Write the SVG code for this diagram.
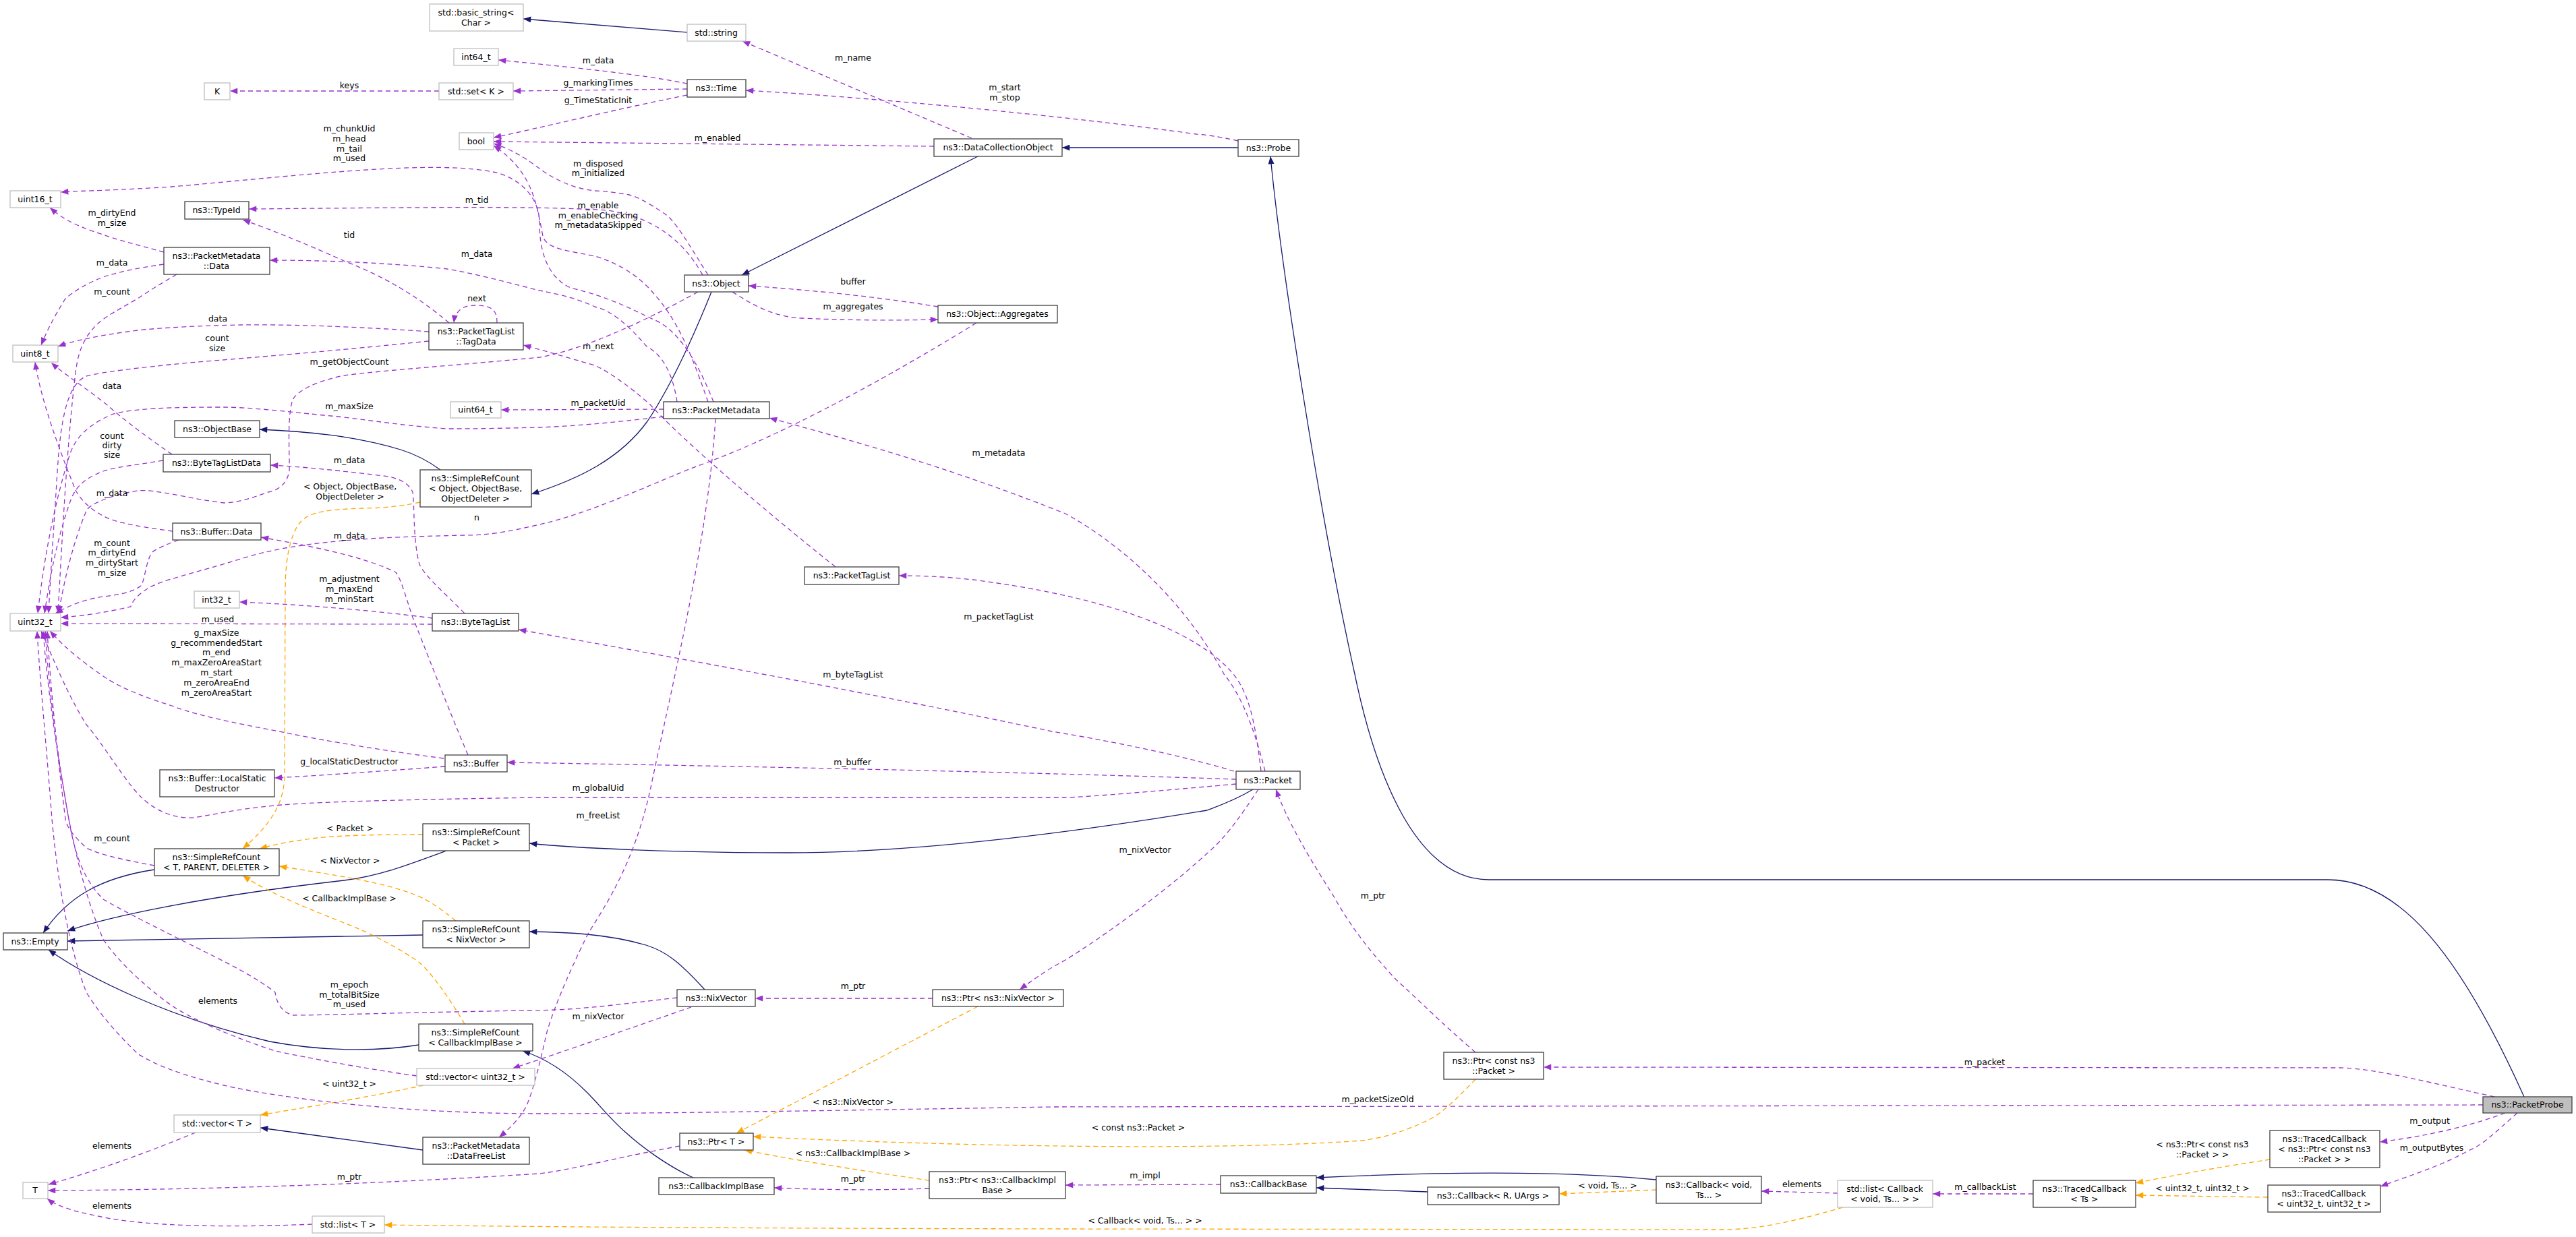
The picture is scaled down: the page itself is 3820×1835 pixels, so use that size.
<svg xmlns="http://www.w3.org/2000/svg" width="3820" height="1835" viewBox="0 0 3820 1835">
<style>
text{font-family:"DejaVu Sans","Liberation Sans",sans-serif;font-size:12.5px;fill:#000;text-anchor:middle}
.b{fill:#fff;stroke:#404040;stroke-width:1.3}
.g{fill:#fff;stroke:#bfbfbf;stroke-width:1.3}
.s{fill:#bfbfbf;stroke:#404040;stroke-width:1.3}
.n{fill:none;stroke:#191970;stroke-width:1.3;marker-end:url(#aN)}
.o{fill:none;stroke:#ffa500;stroke-width:1.3;stroke-dasharray:7,5;marker-end:url(#aO)}
.p{fill:none;stroke:#9a32cd;stroke-width:1.3;stroke-dasharray:7,5;marker-end:url(#aP)}
</style>
<defs>
<marker id="aN" viewBox="0 0 10 8" refX="10" refY="4" markerWidth="13" markerHeight="9" markerUnits="userSpaceOnUse" orient="auto"><path d="M0,0L10,4L0,8z" fill="#191970"/></marker>
<marker id="aO" viewBox="0 0 10 8" refX="10" refY="4" markerWidth="13" markerHeight="9" markerUnits="userSpaceOnUse" orient="auto"><path d="M0,0L10,4L0,8z" fill="#ffa500"/></marker>
<marker id="aP" viewBox="0 0 10 8" refX="10" refY="4" markerWidth="13" markerHeight="9" markerUnits="userSpaceOnUse" orient="auto"><path d="M0,0L10,4L0,8z" fill="#9a32cd"/></marker>
</defs>
<rect width="3820" height="1835" fill="#fff"/>
<g id="edges">
<path class="n" d="M1019,48 L776,28"/>
<path class="n" d="M1450,232 L1100,408"/>
<path class="n" d="M1836,219 L1575,219"/>
<path class="n" d="M3743,1627 C3650,1420 3560,1305 3452,1305 L2208,1305 C2100,1305 2040,1150 2009,1000 C1960,780 1900,400 1884,232"/>
<path class="n" d="M1055,433 C1020,520 990,580 960,625 C920,680 860,710 788,733"/>
<path class="n" d="M653,697 C630,680 610,672 594,667 C520,645 450,640 385,637"/>
<path class="n" d="M1858,1171 C1830,1188 1800,1198 1790,1202 C1500,1250 1300,1265 1168,1265 C1000,1265 850,1258 785,1251"/>
<path class="n" d="M662,1262 C600,1285 560,1300 510,1306 C300,1330 160,1360 100,1381"/>
<path class="n" d="M229,1290 C150,1302 100,1330 64,1384"/>
<path class="n" d="M627,1387 L100,1396"/>
<path class="n" d="M621,1550 C560,1560 480,1560 400,1545 C250,1510 130,1450 72,1409"/>
<path class="n" d="M1045,1468 C1010,1430 990,1412 958,1402 C900,1385 840,1383 785,1382"/>
<path class="n" d="M1028,1747 C990,1730 950,1700 928,1680 C905,1660 890,1640 870,1620 C840,1590 810,1570 775,1559"/>
<path class="n" d="M627,1706 L386,1673"/>
<path class="n" d="M2456,1750 C2300,1735 2100,1740 1952,1747"/>
<path class="n" d="M2117,1768 L1952,1762"/>

<path class="o" d="M623,745 C590,752 560,754 536,754 C490,756 459,758 445,775 C425,800 423,850 423,877 L422,1154 C420,1190 405,1220 360,1259"/>
<text x="519" y="726">&lt; Object, ObjectBase,</text><text x="519" y="741">ObjectDeleter &gt;</text>
<path class="o" d="M627,1238 C560,1238 510,1239 470,1243 C430,1248 410,1252 385,1259"/>
<text x="519" y="1233">&lt; Packet &gt;</text>
<path class="o" d="M676,1366 C650,1345 630,1332 612,1326 C570,1310 510,1300 414,1285"/>
<text x="519" y="1281">&lt; NixVector &gt;</text>
<path class="o" d="M689,1519 C660,1470 630,1430 612,1421 C580,1400 540,1380 510,1369 C450,1345 400,1325 360,1299"/>
<text x="518" y="1337">&lt; CallbackImplBase &gt;</text>
<path class="o" d="M628,1610 C560,1625 470,1640 386,1654"/>
<text x="518" y="1612">&lt; uint32_t &gt;</text>
<path class="o" d="M2733,1791 C2650,1815 2600,1824 2554,1824 L1580,1823 C1100,1822 800,1820 570,1817"/>
<text x="1698" y="1815">&lt; Callback&lt; void, Ts... &gt; &gt;</text>
<path class="o" d="M1450,1493 L1092,1681"/>
<text x="1265" y="1639">&lt; ns3::NixVector &gt;</text>
<path class="o" d="M2188,1601 C2160,1630 2140,1650 2121,1660 C2080,1680 2050,1688 2019,1692 C1800,1708 1400,1700 1117,1686"/>
<text x="1688" y="1677">&lt; const ns3::Packet &gt;</text>
<path class="o" d="M1378,1751 C1300,1740 1200,1725 1104,1706"/>
<text x="1265" y="1715">&lt; ns3::CallbackImplBase &gt;</text>
<path class="o" d="M2456,1765 L2312,1771"/>
<text x="2384" y="1763">&lt; void, Ts... &gt;</text>
<path class="o" d="M3366,1720 C3300,1730 3230,1742 3167,1755"/>
<text x="3266" y="1702">&lt; ns3::Ptr&lt; const ns3</text><text x="3266" y="1717">::Packet &gt; &gt;</text>
<path class="o" d="M3363,1776 C3290,1775 3230,1774 3167,1773"/>
<text x="3266" y="1767">&lt; uint32_t, uint32_t &gt;</text>

<path class="p" d="M1019,124 C950,110 850,100 739,89"/>
<text x="887" y="94">m_data</text>
<path class="p" d="M1019,132 L761,135"/>
<text x="887" y="127">g_markingTimes</text>
<path class="p" d="M1019,141 C900,165 800,190 732,204"/>
<text x="887" y="153">g_TimeStaticInit</text>
<path class="p" d="M651,135 L341,135"/>
<text x="518" y="131">keys</text>
<path class="p" d="M1441,205 L1101,61"/>
<text x="1265" y="90">m_name</text>
<path class="p" d="M1385,217 L732,210"/>
<text x="1064" y="209">m_enabled</text>
<path class="p" d="M1836,209 C1810,203 1790,200 1774,199 C1580,172 1300,145 1106,134"/>
<text x="1490" y="134">m_start</text><text x="1490" y="149">m_stop</text>
<path class="p" d="M1050,408 C1020,360 1000,325 984,316 C960,300 945,292 933,289 C910,285 890,283 882,283 C850,280 820,265 800,250 C780,235 760,222 732,213"/>
<text x="887" y="247">m_disposed</text><text x="887" y="261">m_initialized</text>
<path class="p" d="M1042,408 C1010,350 960,320 900,312 C800,305 600,308 369,310"/>
<text x="707" y="301">m_tid</text>
<path class="p" d="M1050,596 C1030,540 1010,480 969,435 C940,400 900,385 882,380 C845,372 810,370 805,350 C795,300 790,255 732,216"/>
<text x="887" y="309">m_enable</text><text x="887" y="324">m_enableChecking</text><text x="887" y="338">m_metadataSkipped</text>
<path class="p" d="M1058,596 C1040,550 1010,490 969,474 C930,455 900,440 846,427 C810,410 800,370 800,330 C800,300 780,270 740,257 C650,235 450,260 255,277 C180,282 120,283 90,285"/>
<text x="518" y="195">m_chunkUid</text><text x="518" y="210">m_head</text><text x="518" y="225">m_tail</text><text x="518" y="239">m_used</text>
<path class="p" d="M1391,455 C1300,440 1200,430 1110,424"/>
<text x="1265" y="422">buffer</text>
<path class="p" d="M1086,433 C1120,455 1150,470 1188,472 C1280,476 1340,475 1391,474"/>
<text x="1265" y="459">m_aggregates</text>
<path class="p" d="M1448,479 C1300,570 1150,650 1035,691 C960,720 880,760 800,778 C750,790 720,794 689,794 C600,796 560,798 536,800 C460,805 400,815 357,829 C290,850 240,860 219,873 C200,885 195,895 194,900 C160,908 120,914 90,916"/>
<text x="707" y="772">n</text>
<path class="p" d="M1239,841 C1100,730 1000,640 964,600 C930,570 900,550 882,542 C840,530 800,518 776,512"/>
<text x="887" y="518">m_next</text>
<path class="p" d="M1035,433 C950,480 860,520 800,530 C700,540 560,550 510,557 C470,565 440,580 434,593 C425,620 430,680 429,699 C425,720 410,728 398,730 C370,740 350,746 332,746 C280,740 230,725 204,728 C160,735 130,750 128,758 C110,800 95,860 87,910"/>
<text x="518" y="541">m_getObjectCount</text>
<path class="p" d="M984,607 L743,608"/>
<text x="887" y="602">m_packetUid</text>
<path class="p" d="M984,618 C900,628 850,632 800,634 C720,636 690,636 663,636 C580,630 530,620 480,616 C420,610 370,604 327,604 C250,604 200,606 168,614 C130,630 110,650 102,679 C80,750 65,830 56,910"/>
<text x="518" y="607">m_maxSize</text>
<path class="p" d="M1004,596 C1000,570 990,530 959,514 C930,480 905,460 882,455 C850,440 820,435 800,431 C750,418 700,405 663,399 C580,390 480,386 400,386"/>
<text x="707" y="381">m_data</text>
<path class="p" d="M1061,621 C1050,800 1000,1000 964,1173 C940,1280 900,1340 872,1385 C840,1450 820,1500 811,1531 C800,1580 790,1620 780,1642 C770,1660 755,1675 740,1687"/>
<text x="887" y="1214">m_freeList</text>
<path class="p" d="M666,479 C620,440 570,410 510,387 C450,360 400,340 360,326"/>
<text x="518" y="353">tid</text>
<path class="p" d="M737,479 C737,460 730,453 704,453 C685,453 675,462 673,479"/>
<text x="707" y="447">next</text>
<path class="p" d="M636,492 C550,486 450,481 357,482 C300,483 240,486 204,490 C150,497 110,505 86,514"/>
<text x="323" y="477">data</text>
<path class="p" d="M636,506 C500,520 380,530 281,538 C200,546 150,552 128,558 C100,570 90,620 85,700 C80,780 75,850 72,910"/>
<text x="322" y="506">count</text><text x="322" y="521">size</text>
<path class="p" d="M243,374 C200,362 170,355 153,348 C110,335 90,322 74,308"/>
<text x="166" y="320">m_dirtyEnd</text><text x="166" y="335">m_size</text>
<path class="p" d="M243,392 C200,398 170,405 153,411 C125,422 110,432 97,443 C80,470 70,490 61,512"/>
<text x="166" y="394">m_data</text>
<path class="p" d="M262,407 C240,420 220,432 204,443 C175,460 155,470 143,482 C120,505 115,530 112,553 C100,650 92,800 86,910"/>
<text x="166" y="437">m_count</text>
<path class="p" d="M255,674 C220,650 180,620 158,600 C120,570 95,555 76,538"/>
<text x="166" y="577">data</text>
<path class="p" d="M242,683 C200,690 170,693 153,699 C120,712 110,725 102,750 C85,800 75,850 66,910"/>
<text x="166" y="651">count</text><text x="166" y="665">dirty</text><text x="166" y="679">size</text>
<path class="p" d="M256,788 C220,783 185,778 163,770 C135,758 120,742 112,727 C85,660 60,590 52,537"/>
<text x="166" y="736">m_data</text>
<path class="p" d="M265,801 C240,810 225,818 224,821 C215,840 215,860 209,869 C195,880 170,883 153,885 C120,890 100,900 82,910"/>
<text x="166" y="810">m_count</text><text x="166" y="824">m_dirtyEnd</text><text x="166" y="839">m_dirtyStart</text><text x="166" y="854">m_size</text>
<path class="p" d="M689,910 C660,880 630,855 622,837 C612,800 615,750 612,730 C605,715 590,710 577,707 C520,700 460,693 401,690"/>
<text x="518" y="687">m_data</text>
<path class="p" d="M641,917 C550,905 450,897 355,893"/>
<text x="518" y="863">m_adjustment</text><text x="518" y="878">m_maxEnd</text><text x="518" y="893">m_minStart</text>
<path class="p" d="M641,926 L90,925"/>
<text x="323" y="923">m_used</text>
<path class="p" d="M694,1120 C660,1040 630,960 612,916 C600,880 595,860 587,849 C540,825 450,808 387,797"/>
<text x="518" y="799">m_data</text>
<path class="p" d="M658,1125 C580,1115 520,1105 459,1094 C380,1078 300,1065 255,1047 C200,1030 170,1015 153,1003 C120,980 95,960 74,936"/>
<text x="321" y="943">g_maxSize</text><text x="321" y="958">g_recommendedStart</text><text x="321" y="972">m_end</text><text x="321" y="987">m_maxZeroAreaStart</text><text x="321" y="1002">m_start</text><text x="321" y="1017">m_zeroAreaEnd</text><text x="321" y="1032">m_zeroAreaStart</text>
<path class="p" d="M660,1137 C580,1143 480,1150 407,1154"/>
<text x="518" y="1134">g_localStaticDestructor</text>
<path class="p" d="M1833,1156 C1600,1148 1200,1138 752,1131"/>
<text x="1264" y="1135">m_buffer</text>
<path class="p" d="M1833,1163 C1700,1175 1600,1183 1580,1183 L800,1183 C600,1186 450,1190 408,1195 C350,1200 310,1210 286,1213 C250,1215 220,1195 204,1177 C180,1150 150,1100 128,1075 C100,1030 80,980 61,936"/>
<text x="887" y="1173">m_globalUid</text>
<path class="p" d="M1876,1144 C1860,1080 1840,1030 1815,1000 C1750,880 1650,800 1580,762 C1400,690 1250,650 1141,620"/>
<text x="1481" y="676">m_metadata</text>
<path class="p" d="M1870,1144 C1860,1060 1850,1020 1820,990 C1750,920 1600,880 1443,860 C1400,855 1360,854 1333,854"/>
<text x="1481" y="919">m_packetTagList</text>
<path class="p" d="M1830,1144 C1750,1120 1650,1100 1560,1085 C1300,1030 1000,975 769,934"/>
<text x="1265" y="1005">m_byteTagList</text>
<path class="p" d="M1866,1171 C1840,1210 1820,1240 1790,1266 C1720,1330 1620,1400 1580,1424 C1550,1440 1530,1455 1512,1468"/>
<text x="1698" y="1265">m_nixVector</text>
<path class="p" d="M1383,1481 L1120,1481"/>
<text x="1265" y="1467">m_ptr</text>
<path class="p" d="M1004,1480 C900,1492 850,1499 780,1499 C600,1502 480,1506 434,1506 C415,1500 410,1485 408,1472 C380,1450 340,1430 306,1413 C240,1380 180,1350 153,1334 C120,1300 110,1260 102,1215 C85,1120 70,1020 64,936"/>
<text x="518" y="1465">m_epoch</text><text x="518" y="1480">m_totalBitSize</text><text x="518" y="1494">m_used</text>
<path class="p" d="M1025,1494 C950,1520 850,1555 760,1585"/>
<text x="887" y="1512">m_nixVector</text>
<path class="p" d="M618,1596 C540,1585 460,1570 408,1559 C350,1540 290,1515 255,1492 C210,1460 170,1420 153,1393 C130,1340 115,1280 102,1215 C85,1120 72,1020 67,936"/>
<text x="323" y="1489">elements</text>
<path class="p" d="M1008,1700 C900,1720 850,1735 800,1741 C500,1760 250,1765 71,1766"/>
<text x="518" y="1750">m_ptr</text>
<path class="p" d="M1378,1763 C1300,1766 1220,1765 1148,1762"/>
<text x="1265" y="1753">m_ptr</text>
<path class="p" d="M1810,1757 L1580,1758"/>
<text x="1698" y="1748">m_impl</text>
<path class="p" d="M290,1680 C230,1705 150,1735 72,1757"/>
<text x="166" y="1704">elements</text>
<path class="p" d="M463,1816 C350,1821 220,1820 150,1805 C110,1797 85,1790 70,1778"/>
<text x="166" y="1793">elements</text>
<path class="p" d="M2725,1770 L2612,1767"/>
<text x="2672" y="1761">elements</text>
<path class="p" d="M3015,1771 L2866,1771"/>
<text x="2944" y="1765">m_callbackList</text>
<path class="p" d="M3699,1627 C3620,1610 3520,1584 3470,1584 L2289,1583"/>
<text x="2943" y="1580">m_packet</text>
<path class="p" d="M3682,1639 L1560,1642 C1200,1648 950,1652 800,1652 C600,1652 420,1630 332,1610 C270,1595 230,1580 204,1563 C170,1530 145,1500 128,1472 C100,1400 85,1300 77,1215 C70,1120 60,1020 55,936"/>
<text x="2043" y="1635">m_packetSizeOld</text>
<path class="p" d="M3715,1651 C3650,1675 3580,1688 3529,1694"/>
<text x="3603" y="1667">m_output</text>
<path class="p" d="M3733,1651 C3700,1680 3680,1700 3660,1707 C3620,1730 3570,1745 3530,1760"/>
<text x="3606" y="1707">m_outputBytes</text>
<path class="p" d="M2188,1561 C2140,1520 2100,1480 2070,1453 C2030,1410 2000,1370 1978,1330 C1940,1270 1910,1220 1892,1171"/>
<text x="2036" y="1333">m_ptr</text>
<path class="p" d="M229,1284 C180,1275 150,1268 128,1258 C110,1240 100,1230 97,1215 C85,1120 75,1020 70,936"/>
<text x="166" y="1248">m_count</text>
</g>

<g id="n_basic_string"><rect class="g" x="637" y="6" width="139" height="40"/><text x="706" y="23">std::basic_string&lt;</text><text x="706" y="38">Char &gt;</text></g>
<g id="n_string"><rect class="g" x="1019" y="36" width="87" height="25"/><text x="1062" y="53">std::string</text></g>
<g id="n_int64"><rect class="g" x="673" y="72" width="66" height="25"/><text x="706" y="89">int64_t</text></g>
<g id="n_time"><rect class="b" x="1019" y="118" width="87" height="26"/><text x="1062" y="135">ns3::Time</text></g>
<g id="n_K"><rect class="g" x="303" y="123" width="38" height="25"/><text x="322" y="140">K</text></g>
<g id="n_set"><rect class="g" x="651" y="123" width="110" height="25"/><text x="706" y="140">std::set&lt; K &gt;</text></g>
<g id="n_bool"><rect class="g" x="681" y="197" width="51" height="25"/><text x="706" y="214">bool</text></g>
<g id="n_dco"><rect class="b" x="1385" y="206" width="190" height="26"/><text x="1480" y="223">ns3::DataCollectionObject</text></g>
<g id="n_probe"><rect class="b" x="1836" y="207" width="90" height="25"/><text x="1881" y="224">ns3::Probe</text></g>
<g id="n_uint16"><rect class="g" x="15" y="283" width="75" height="25"/><text x="52" y="300">uint16_t</text></g>
<g id="n_typeid"><rect class="b" x="274" y="299" width="95" height="26"/><text x="321" y="316">ns3::TypeId</text></g>
<g id="n_pmdata"><rect class="b" x="243" y="367" width="157" height="40"/><text x="321" y="384">ns3::PacketMetadata</text><text x="321" y="399">::Data</text></g>
<g id="n_object"><rect class="b" x="1015" y="408" width="95" height="25"/><text x="1062" y="425">ns3::Object</text></g>
<g id="n_aggr"><rect class="b" x="1391" y="453" width="177" height="26"/><text x="1479" y="470">ns3::Object::Aggregates</text></g>
<g id="n_tagdata"><rect class="b" x="636" y="479" width="140" height="40"/><text x="706" y="496">ns3::PacketTagList</text><text x="706" y="511">::TagData</text></g>
<g id="n_uint8"><rect class="g" x="19" y="512" width="67" height="25"/><text x="52" y="529">uint8_t</text></g>
<g id="n_uint64"><rect class="g" x="668" y="596" width="75" height="24"/><text x="705" y="612">uint64_t</text></g>
<g id="n_pm"><rect class="b" x="984" y="596" width="157" height="25"/><text x="1062" y="613">ns3::PacketMetadata</text></g>
<g id="n_objectbase"><rect class="b" x="259" y="624" width="126" height="25"/><text x="322" y="641">ns3::ObjectBase</text></g>
<g id="n_srcobj"><rect class="b" x="623" y="697" width="165" height="55"/><text x="705" y="714">ns3::SimpleRefCount</text><text x="705" y="729">&lt; Object, ObjectBase,</text><text x="705" y="744">ObjectDeleter &gt;</text></g>
<g id="n_btld"><rect class="b" x="242" y="674" width="159" height="26"/><text x="321" y="691">ns3::ByteTagListData</text></g>
<g id="n_bufdata"><rect class="b" x="256" y="776" width="131" height="25"/><text x="321" y="793">ns3::Buffer::Data</text></g>
<g id="n_ptl"><rect class="b" x="1193" y="841" width="140" height="26"/><text x="1263" y="858">ns3::PacketTagList</text></g>
<g id="n_int32"><rect class="g" x="288" y="877" width="67" height="25"/><text x="321" y="894">int32_t</text></g>
<g id="n_uint32"><rect class="g" x="15" y="910" width="75" height="26"/><text x="52" y="927">uint32_t</text></g>
<g id="n_btl"><rect class="b" x="641" y="910" width="128" height="26"/><text x="705" y="927">ns3::ByteTagList</text></g>
<g id="n_buffer"><rect class="b" x="660" y="1120" width="92" height="25"/><text x="706" y="1137">ns3::Buffer</text></g>
<g id="n_lsd"><rect class="b" x="237" y="1142" width="170" height="40"/><text x="322" y="1159">ns3::Buffer::LocalStatic</text><text x="322" y="1174">Destructor</text></g>
<g id="n_packet"><rect class="b" x="1833" y="1144" width="95" height="27"/><text x="1880" y="1162">ns3::Packet</text></g>
<g id="n_srcpacket"><rect class="b" x="627" y="1222" width="158" height="40"/><text x="706" y="1239">ns3::SimpleRefCount</text><text x="706" y="1254">&lt; Packet &gt;</text></g>
<g id="n_srct"><rect class="b" x="229" y="1259" width="185" height="40"/><text x="321" y="1276">ns3::SimpleRefCount</text><text x="321" y="1291">&lt; T, PARENT, DELETER &gt;</text></g>
<g id="n_srcnix"><rect class="b" x="627" y="1366" width="158" height="40"/><text x="706" y="1383">ns3::SimpleRefCount</text><text x="706" y="1398">&lt; NixVector &gt;</text></g>
<g id="n_empty"><rect class="b" x="5" y="1384" width="95" height="25"/><text x="52" y="1401">ns3::Empty</text></g>
<g id="n_nix"><rect class="b" x="1004" y="1468" width="116" height="25"/><text x="1062" y="1485">ns3::NixVector</text></g>
<g id="n_ptrnix"><rect class="b" x="1383" y="1468" width="194" height="25"/><text x="1480" y="1485">ns3::Ptr&lt; ns3::NixVector &gt;</text></g>
<g id="n_srccib"><rect class="b" x="621" y="1519" width="169" height="40"/><text x="705" y="1536">ns3::SimpleRefCount</text><text x="705" y="1551">&lt; CallbackImplBase &gt;</text></g>
<g id="n_ptrconst"><rect class="b" x="2141" y="1561" width="148" height="40"/><text x="2215" y="1578">ns3::Ptr&lt; const ns3</text><text x="2215" y="1593">::Packet &gt;</text></g>
<g id="n_vecu32"><rect class="g" x="618" y="1585" width="175" height="25"/><text x="705" y="1602">std::vector&lt; uint32_t &gt;</text></g>
<g id="n_probe2"><rect class="s" x="3682" y="1627" width="132" height="24"/><text x="3748" y="1643">ns3::PacketProbe</text></g>
<g id="n_vect"><rect class="g" x="258" y="1654" width="128" height="26"/><text x="322" y="1671">std::vector&lt; T &gt;</text></g>
<g id="n_ptrt"><rect class="b" x="1008" y="1681" width="109" height="25"/><text x="1062" y="1698">ns3::Ptr&lt; T &gt;</text></g>
<g id="n_dfl"><rect class="b" x="627" y="1687" width="158" height="40"/><text x="706" y="1704">ns3::PacketMetadata</text><text x="706" y="1719">::DataFreeList</text></g>
<g id="n_tcptr"><rect class="b" x="3366" y="1677" width="163" height="55"/><text x="3447" y="1694">ns3::TracedCallback</text><text x="3447" y="1709">&lt; ns3::Ptr&lt; const ns3</text><text x="3447" y="1724">::Packet &gt; &gt;</text></g>
<g id="n_ptrcib"><rect class="b" x="1378" y="1738" width="202" height="40"/><text x="1479" y="1755">ns3::Ptr&lt; ns3::CallbackImpl</text><text x="1479" y="1770">Base &gt;</text></g>
<g id="n_cbbase"><rect class="b" x="1810" y="1744" width="142" height="26"/><text x="1881" y="1761">ns3::CallbackBase</text></g>
<g id="n_cib"><rect class="b" x="977" y="1747" width="171" height="25"/><text x="1062" y="1764">ns3::CallbackImplBase</text></g>
<g id="n_cbvoid"><rect class="b" x="2456" y="1745" width="156" height="40"/><text x="2534" y="1762">ns3::Callback&lt; void,</text><text x="2534" y="1777">Ts... &gt;</text></g>
<g id="n_listcb"><rect class="g" x="2725" y="1751" width="141" height="40"/><text x="2795" y="1768">std::list&lt; Callback</text><text x="2795" y="1783">&lt; void, Ts... &gt; &gt;</text></g>
<g id="n_tcts"><rect class="b" x="3015" y="1751" width="152" height="40"/><text x="3091" y="1768">ns3::TracedCallback</text><text x="3091" y="1783">&lt; Ts &gt;</text></g>
<g id="n_T"><rect class="g" x="34" y="1754" width="37" height="24"/><text x="52" y="1770">T</text></g>
<g id="n_cbru"><rect class="b" x="2117" y="1761" width="195" height="26"/><text x="2214" y="1778">ns3::Callback&lt; R, UArgs &gt;</text></g>
<g id="n_tcu32"><rect class="b" x="3363" y="1758" width="167" height="40"/><text x="3446" y="1775">ns3::TracedCallback</text><text x="3446" y="1790">&lt; uint32_t, uint32_t &gt;</text></g>
<g id="n_listt"><rect class="g" x="463" y="1804" width="107" height="25"/><text x="516" y="1821">std::list&lt; T &gt;</text></g>
</svg>
